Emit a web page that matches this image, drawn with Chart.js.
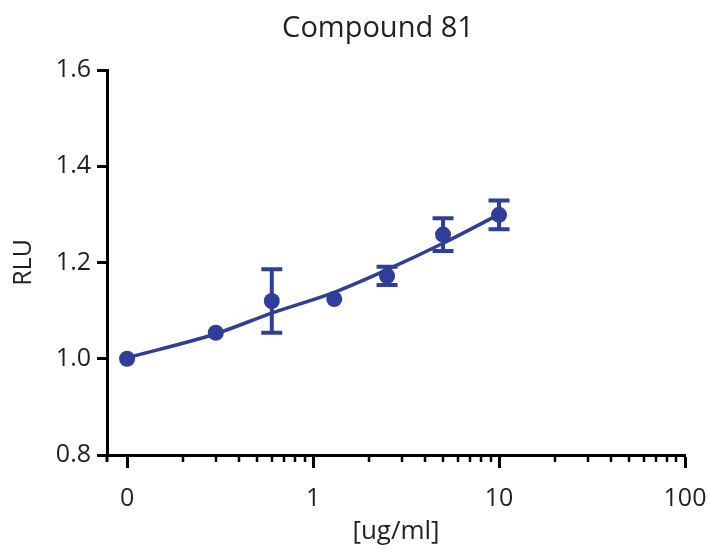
<!DOCTYPE html>
<html>
<head>
<meta charset="utf-8">
<title>Compound 81</title>
<script src="https://cdn.jsdelivr.net/npm/chart.js@4/dist/chart.umd.min.js"></script>
<style>
  html, body { margin: 0; padding: 0; background: #fff; }
  #wrap { width: 708px; height: 551px; }
</style>
</head>
<body>
<div id="wrap"><canvas id="chart" width="708" height="551"></canvas></div>
<script>
// Concentrations (first dose is the "0" control, drawn at 0.1 on the log axis)
const doseX = [0.1, 0.3, 0.6, 1.3, 2.5, 5, 10];
// Mean RLU and SD at each dose
const rluMean = [1.0, 1.054, 1.120, 1.124, 1.172, 1.258, 1.299];
const rluSd = [0, 0, 0.066, 0, 0.019, 0.034, 0.030];
// Fitted curve
const fitX = [0.1, 0.3, 0.6, 1.3, 2.5, 5, 10];
const fitY = [1.002, 1.052, 1.095, 1.138, 1.185, 1.240, 1.300];
// Axis ticks
const xMajorTicks = [0.1, 1, 10, 100];
const xMajorLabels = ['0', '1', '10', '100'];
const xMinorTicks = [0.2, 0.3, 0.4, 0.5, 0.6, 0.7, 0.8, 0.9,
                     2, 3, 4, 5, 6, 7, 8, 9,
                     20, 30, 40, 50, 60, 70, 80, 90];
const yTicks = [0.8, 1.0, 1.2, 1.4, 1.6];

const BLUE = '#2f3e9c';
const INK = '#231f20';
const FONT = "'Open Sans', 'Noto Sans', sans-serif";

// Error bars drawn through the chart's own scales
const errorBars = {
    id: 'errorBars',
    afterDatasetsDraw(chart) {
        const xs = chart.scales.x, ys = chart.scales.y;
        const ctx = chart.ctx;
        ctx.save();
        ctx.strokeStyle = BLUE;
        ctx.lineWidth = 4;
        doseX.forEach((x, i) => {
            if (!rluSd[i]) return;
            const px = xs.getPixelForValue(x);
            const top = ys.getPixelForValue(rluMean[i] + rluSd[i]);
            const bot = ys.getPixelForValue(rluMean[i] - rluSd[i]);
            ctx.beginPath();
            ctx.moveTo(px, top); ctx.lineTo(px, bot);
            ctx.moveTo(px - 10.5, top); ctx.lineTo(px + 10.5, top);
            ctx.moveTo(px - 10.5, bot); ctx.lineTo(px + 10.5, bot);
            ctx.stroke();
        });
        ctx.restore();
    }
};

// Minor log ticks (shorter than the major ones) and the title
const extras = {
    id: 'extras',
    afterDraw(chart) {
        const xs = chart.scales.x;
        const ctx = chart.ctx;
        const y0 = chart.chartArea.bottom;
        ctx.save();
        ctx.strokeStyle = '#000';
        ctx.lineWidth = 2.5;
        xMinorTicks.forEach(v => {
            const px = Math.round(xs.getPixelForValue(v));
            ctx.beginPath();
            ctx.moveTo(px, y0);
            ctx.lineTo(px, y0 + 7);
            ctx.stroke();
        });
        // y axis runs a little past the x axis
        ctx.lineWidth = 3;
        ctx.beginPath();
        ctx.moveTo(chart.chartArea.left, y0);
        ctx.lineTo(chart.chartArea.left, y0 + 7);
        ctx.stroke();
        // title
        ctx.fillStyle = INK;
        ctx.font = '29px ' + FONT;
        ctx.textAlign = 'center';
        ctx.textBaseline = 'alphabetic';
        ctx.fillText('Compound 81', 378, 37);
        ctx.restore();
    }
};

new Chart(document.getElementById('chart'), {
    type: 'scatter',
    data: {
        datasets: [
            {
                label: 'fit',
                data: fitX.map((x, i) => ({ x: x, y: fitY[i] })),
                showLine: true,
                borderColor: BLUE,
                borderWidth: 3.5,
                pointRadius: 0,
                cubicInterpolationMode: 'monotone',
                fill: false
            },
            {
                label: 'Compound 81',
                data: doseX.map((x, i) => ({ x: x, y: rluMean[i] })),
                showLine: false,
                backgroundColor: BLUE,
                borderColor: BLUE,
                borderWidth: 0,
                pointRadius: 8,
                pointHoverRadius: 8
            }
        ]
    },
    options: {
        responsive: false,
        animation: false,
        devicePixelRatio: 1,
        layout: { padding: { top: 70, right: 23, left: 0, bottom: 0 } },
        plugins: {
            legend: { display: false },
            tooltip: { enabled: false },
            title: { display: false }
        },
        scales: {
            x: {
                type: 'logarithmic',
                min: 0.078,
                max: 100,
                afterBuildTicks: scale => {
                    scale.ticks = xMajorTicks.map(v => ({ value: v, major: true }));
                },
                afterFit: scale => {
                    scale.height = 96;
                    scale.paddingLeft = 0;
                    scale.paddingRight = 0;
                },
                border: { display: true, color: '#000', width: 3 },
                grid: {
                    drawOnChartArea: false,
                    drawTicks: true,
                    tickLength: 13,
                    tickWidth: 3,
                    tickColor: '#000'
                },
                ticks: {
                    autoSkip: false,
                    maxRotation: 0,
                    padding: 16,
                    color: INK,
                    font: { family: FONT, size: 25 },
                    callback: (v) => {
                        const i = xMajorTicks.findIndex(t => Math.abs(t - v) < 1e-9);
                        return i >= 0 ? xMajorLabels[i] : '';
                    }
                },
                title: {
                    display: true,
                    text: '[ug/ml]',
                    color: INK,
                    font: { family: FONT, size: 26 },
                    padding: { top: 0, bottom: 4 }
                }
            },
            y: {
                type: 'linear',
                min: 0.8,
                max: 1.6,
                afterBuildTicks: scale => {
                    scale.ticks = yTicks.map(v => ({ value: v }));
                },
                afterFit: scale => {
                    scale.width = 107;
                    scale.paddingTop = 0;
                    scale.paddingBottom = 0;
                },
                border: { display: true, color: '#000', width: 3 },
                grid: {
                    drawOnChartArea: false,
                    drawTicks: true,
                    tickLength: 10,
                    tickWidth: 3,
                    tickColor: '#000'
                },
                ticks: {
                    padding: 6,
                    color: INK,
                    font: { family: FONT, size: 25 },
                    callback: v => Number(v).toFixed(1)
                },
                title: {
                    display: true,
                    text: 'RLU',
                    color: INK,
                    font: { family: FONT, size: 25 },
                    padding: { top: 9, bottom: 0 }
                }
            }
        }
    },
    plugins: [errorBars, extras]
});
</script>
</body>
</html>
